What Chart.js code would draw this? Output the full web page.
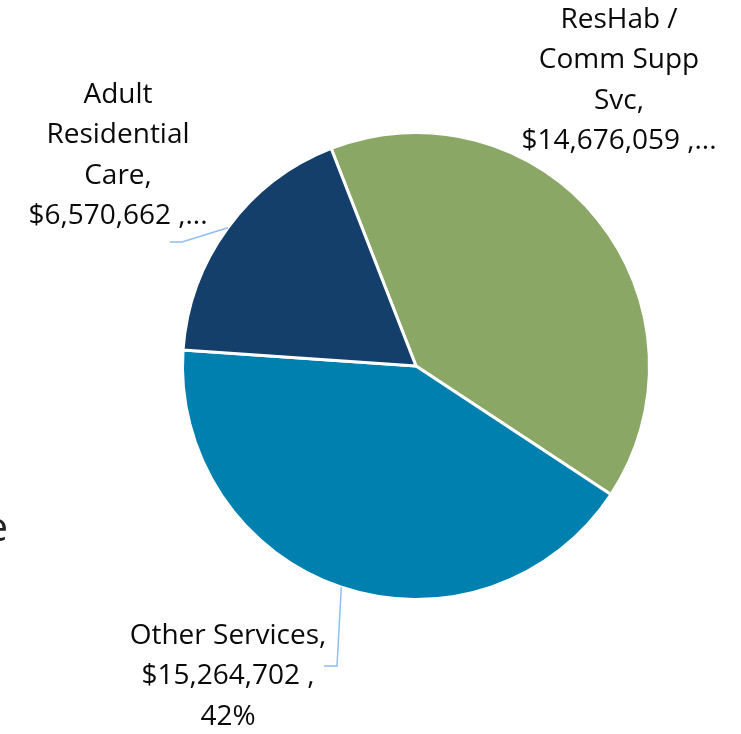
<!DOCTYPE html>
<html>
<head>
<meta charset="utf-8">
<script src="https://cdn.jsdelivr.net/npm/chart.js@4"></script>
<style>
  html, body { margin: 0; padding: 0; background: #ffffff; }
  #wrap { width: 741px; height: 734px; position: relative; }
</style>
</head>
<body>
<div id="wrap"><canvas id="pie"></canvas></div>
<script>
// data
const categories = ["ResHab / Comm Supp Svc", "Other Services", "Adult Residential Care"];
const amounts = [14676059, 15264702, 6570662];
const sliceColors = ["#8BA766", "#0080AF", "#133F6A"];

// label text lines, as shown in the picture
const labelLines = [
    ["ResHab /", "Comm Supp", "Svc,", "$14,676,059 ,..."],
    ["Other Services,", "$15,264,702 ,", "42%"],
    ["Adult", "Residential", "Care,", "$6,570,662 ,..."]
];

// ================================
//   LABELS + LEADER LINES
// ================================
const labelPlugin = {
    id: "sliceLabels",
    afterDraw(chart) {
        const ctx = chart.ctx;
        const arcs = chart.getDatasetMeta(0).data;

        // where each label block sits (center x, first line y) and its leader elbow
        const layout = [
            { x: 619, y: 20, elbow: null },
            { x: 228, y: 636, elbow: [337, 666, 324, 666] },
            { x: 118, y: 95, elbow: [182, 242, 170, 242] }
        ];

        ctx.save();
        // leader lines
        ctx.strokeStyle = "#8EBFF0";
        ctx.lineWidth = 1.5;
        arcs.forEach((arc, i) => {
            const e = layout[i].elbow;
            if (!e) return;
            const mid = (arc.startAngle + arc.endAngle) / 2;
            const sx = arc.x + Math.cos(mid) * arc.outerRadius;
            const sy = arc.y + Math.sin(mid) * arc.outerRadius;
            ctx.beginPath();
            ctx.moveTo(sx, sy);
            ctx.lineTo(e[0], e[1]);
            ctx.lineTo(e[2], e[3]);
            ctx.stroke();
        });

        // label text
        ctx.fillStyle = "#0a0a0a";
        ctx.font = "28px 'Open Sans', 'Noto Sans', sans-serif";
        ctx.textAlign = "center";
        ctx.textBaseline = "middle";
        labelLines.forEach((lines, i) => {
            lines.forEach((t, j) => {
                ctx.fillText(t, layout[i].x, layout[i].y + j * 40.5);
            });
        });

        // clipped title fragment at left edge
        ctx.fillStyle = "#222222";
        ctx.font = "40px 'Open Sans', 'Noto Sans', sans-serif";
        ctx.textAlign = "right";
        ctx.fillText("e", 8, 530);
        ctx.restore();
    }
};

new Chart(document.getElementById("pie"), {
    type: "pie",
    data: {
        labels: categories,
        datasets: [{
            data: amounts,
            backgroundColor: sliceColors,
            borderColor: "#ffffff",
            borderWidth: 3
        }]
    },
    options: {
        responsive: true,
        maintainAspectRatio: false,
        animation: false,
        rotation: -21.3,
        layout: { padding: { left: 181, right: 90, top: 131, bottom: 133 } },
        plugins: {
            legend: { display: false },
            tooltip: { enabled: false }
        }
    },
    plugins: [labelPlugin]
});
</script>
</body>
</html>
